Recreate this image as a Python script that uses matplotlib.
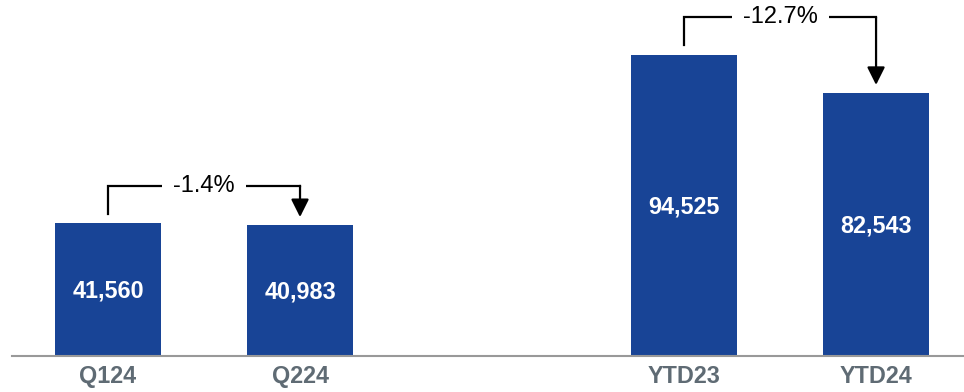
import matplotlib
matplotlib.use("Agg")
import matplotlib.pyplot as plt

# Volumes per period
categories = ["Q124", "Q224", "YTD23", "YTD24"]
values = [41560, 40983, 94525, 82543]
positions = [0, 1, 3, 4]
# Pairs compared by the bracket arrows (indices into the lists above)
pairs = [(0, 1), (2, 3)]

BAR_COLOR = "#184496"
TICK_COLOR = "#5f6b74"

plt.rcParams["font.family"] = ["Liberation Sans", "DejaVu Sans"]

fig = plt.figure(figsize=(9.64, 3.92), dpi=100)
ax = fig.add_axes([12 / 964, 36.5 / 392, 1 - 12 / 964, 355.5 / 392])

ax.bar(positions, values, width=0.552, color=BAR_COLOR, zorder=2)

for x, v in zip(positions, values):
    ax.text(x, v / 2 - 600, f"{v:,}", ha="center", va="center", color="white",
            fontsize=16.8, fontweight="bold", zorder=3)

ax.set_xlim(-0.5, 4.458)
ax.set_ylim(0, 111800)

ax.set_xticks(positions)
ax.set_xticklabels(categories, fontsize=16.8, fontweight="bold", color=TICK_COLOR)
ax.tick_params(axis="x", length=0, pad=6.5)
ax.set_yticks([])

for side in ("top", "right", "left"):
    ax.spines[side].set_visible(False)
ax.spines["bottom"].set_color("#999999")
ax.spines["bottom"].set_linewidth(1.5)

# Change brackets between compared periods
rise = 11800
gap = 3000
for a, b in pairs:
    xa, xb = positions[a], positions[b]
    va_, vb_ = values[a], values[b]
    level = max(va_, vb_) + rise
    ax.plot([xa, xa, xb], [va_ + gap, level, level], color="black", lw=1.6,
            solid_joinstyle="miter", solid_capstyle="projecting", zorder=3)
    ax.annotate("", xy=(xb, vb_ + gap * 0.85), xytext=(xb, level),
                arrowprops=dict(arrowstyle="-|>,head_length=0.6,head_width=0.3",
                                mutation_scale=18, color="black", lw=1.6,
                                shrinkA=0, shrinkB=0), zorder=3)
    pct = (vb_ - va_) / va_ * 100
    ax.text((xa + xb) / 2, level, f"{pct:.1f}%", ha="center", va="center",
            fontsize=17, color="black", zorder=4,
            bbox=dict(facecolor="white", edgecolor="none", pad=8))

fig.savefig("out.png", dpi=100)
